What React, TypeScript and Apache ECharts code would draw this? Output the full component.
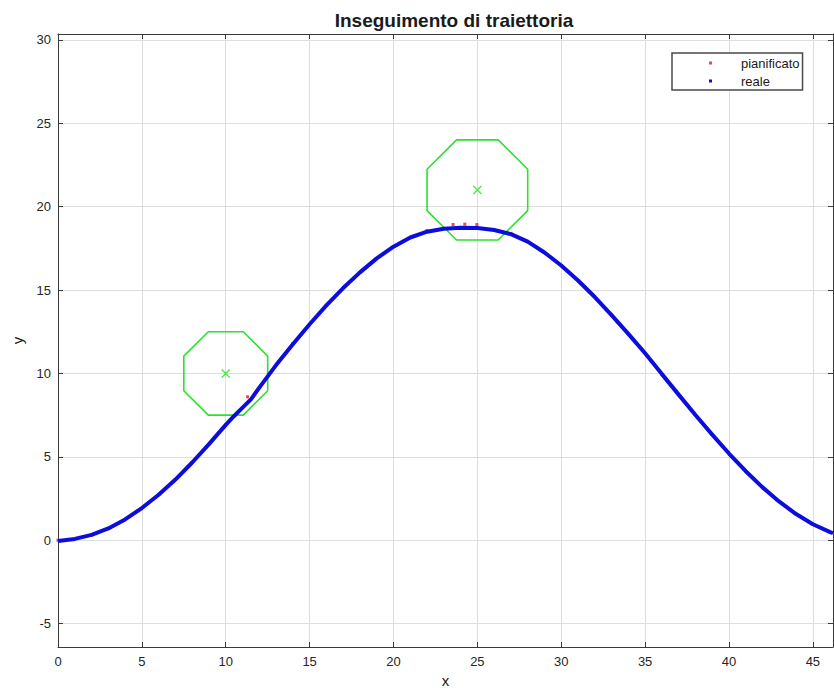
import React, { useEffect, useRef } from "react";
import * as echarts from "echarts";

const TITLE = "Inseguimento di traiettoria";
const X_RANGE = [0, 46.2];
const Y_RANGE = [-6.4, 30.35];

// planned trajectory (red dots), mostly hidden below the real one
const plannedPath: [number, number][] = [
  [0, 0], [2, 0.32], [4, 1.25], [6, 2.73], [8, 4.66], [10, 6.92], [11.3, 8.6],
  [14, 11.79], [16, 14.08], [18, 16.06], [20, 17.6], [22, 18.57],
  [23.55, 18.93], [24.25, 18.95], [24.97, 18.93], [27, 18.4], [30, 16.47],
  [33, 13.5], [36, 9.96], [39, 6.33], [42, 3.17], [45, 0.96],
];

// real trajectory (blue)
const realPath: [number, number][] = [
  [0, -0.05], [1, 0.08], [2, 0.32], [3, 0.71], [4, 1.25], [5, 1.93], [6, 2.73],
  [7, 3.64], [8, 4.66], [9, 5.76], [10, 6.92], [10.5, 7.45], [11, 7.95],
  [11.5, 8.45], [12, 9.15], [13, 10.5], [14, 11.75], [15, 12.95], [16, 14.08],
  [17, 15.12], [18, 16.06], [19, 16.9], [20, 17.6], [21, 18.15], [22, 18.5],
  [23, 18.68], [24, 18.74], [25, 18.72], [26, 18.6], [27, 18.35], [28, 17.9],
  [29, 17.25], [30, 16.47], [31, 15.57], [32, 14.58], [33, 13.5], [34, 12.37],
  [35, 11.21], [36, 9.96], [37, 8.73], [38, 7.51], [39, 6.33], [40, 5.2],
  [41, 4.14], [42, 3.17], [43, 2.31], [44, 1.57], [45, 0.96], [46, 0.5],
  [46.2, 0.42],
];

// obstacles: centres and octagonal boundaries
const obstacleCenters: [number, number][] = [[10, 10], [25, 21]];
const obstacle1: [number, number][] = [
  [12.5, 8.96], [12.5, 11.04], [11.04, 12.5], [8.96, 12.5], [7.5, 11.04],
  [7.5, 8.96], [8.96, 7.5], [11.04, 7.5], [12.5, 8.96],
];
const obstacle2: [number, number][] = [
  [28, 19.76], [28, 22.24], [26.24, 24], [23.76, 24], [22, 22.24],
  [22, 19.76], [23.76, 18], [26.24, 18], [28, 19.76],
];

const FONT = "Liberation Sans";
const GREEN = "#2fe02f";
const BLUE = "#0c0cdc";
const RED = "#e02020";

export default function App() {
  const ref = useRef<HTMLDivElement>(null);
  useEffect(() => {
    if (!ref.current) return;
    const chart = echarts.init(ref.current, null, { renderer: "svg" });
    const axisCommon = {
      axisLine: { show: true, onZero: false, lineStyle: { color: "#3a3a3a", width: 1 } },
      axisTick: { show: true, inside: true, length: 5, lineStyle: { color: "#3a3a3a" } },
    };
    chart.setOption({
      animation: false,
      backgroundColor: "#ffffff",
      title: {
        text: TITLE,
        left: 449,
        top: 6,
        textAlign: "center",
        textStyle: { fontFamily: FONT, fontSize: 19, fontWeight: "bold", color: "#1a1a1a" },
      },
      grid: { left: 58, right: 1, top: 34, bottom: 43 },
      legend: {
        data: [
          { name: "pianificato", icon: "rect" },
          { name: "reale", icon: "rect" },
        ],
        orient: "vertical",
        left: 672,
        top: 53,
        itemWidth: 3,
        itemHeight: 3,
        itemGap: 4,
        padding: [3, 3, 2, 37],
        borderColor: "#4a4a4a",
        borderWidth: 1.5,
        backgroundColor: "#ffffff",
        textStyle: {
          fontFamily: FONT, fontSize: 13, color: "#1a1a1a", lineHeight: 14,
          padding: [0, 0, 0, 24],
        },
      },
      xAxis: [
        {
          type: "value",
          min: X_RANGE[0],
          max: X_RANGE[1],
          interval: 5,
          name: "x",
          nameLocation: "middle",
          nameGap: 26,
          nameTextStyle: { fontFamily: FONT, fontSize: 15, color: "#1a1a1a" },
          ...axisCommon,
          axisLabel: { fontFamily: FONT, fontSize: 13, color: "#262626", margin: 8, showMaxLabel: false },
          splitLine: { show: true, lineStyle: { color: "#dedede", width: 1 } },
        },
        {
          type: "value",
          position: "top",
          min: X_RANGE[0],
          max: X_RANGE[1],
          interval: 5,
          ...axisCommon,
          axisLabel: { show: false },
          splitLine: { show: false },
        },
      ],
      yAxis: [
        {
          type: "value",
          min: Y_RANGE[0],
          max: Y_RANGE[1],
          splitNumber: 7,
          minInterval: 5,
          maxInterval: 5,
          name: "y",
          nameLocation: "middle",
          nameGap: 33,
          nameTextStyle: { fontFamily: FONT, fontSize: 15, color: "#1a1a1a" },
          ...axisCommon,
          axisLabel: {
            fontFamily: FONT, fontSize: 13, color: "#262626", margin: 7,
            showMinLabel: false, showMaxLabel: false,
          },
          splitLine: { show: true, lineStyle: { color: "#dedede", width: 1 } },
        },
        {
          type: "value",
          position: "right",
          min: Y_RANGE[0],
          max: Y_RANGE[1],
          splitNumber: 7,
          minInterval: 5,
          maxInterval: 5,
          ...axisCommon,
          axisLabel: { show: false },
          splitLine: { show: false },
        },
      ],
      series: [
        {
          name: "ostacolo 1",
          type: "line",
          data: obstacle1,
          showSymbol: false,
          lineStyle: { color: GREEN, width: 1.6 },
          z: 3,
        },
        {
          name: "ostacolo 2",
          type: "line",
          data: obstacle2,
          showSymbol: false,
          lineStyle: { color: GREEN, width: 1.6 },
          z: 3,
        },
        {
          name: "centri",
          type: "scatter",
          data: obstacleCenters,
          symbol: "path://M0,0L10,10M10,0L0,10",
          symbolSize: 8,
          itemStyle: { color: "none", borderColor: GREEN, borderWidth: 1.6 },
          z: 3,
        },
        {
          name: "pianificato",
          type: "scatter",
          data: plannedPath,
          symbol: "rect",
          symbolSize: 3,
          itemStyle: { color: RED },
          z: 4,
        },
        {
          name: "reale",
          type: "line",
          data: realPath,
          showSymbol: false,
          symbol: "rect",
          itemStyle: { color: BLUE },
          lineStyle: { color: BLUE, width: 4 },
          z: 5,
        },
      ],
    });
    return () => chart.dispose();
  }, []);
  return (
    <div
      ref={ref}
      style={{ position: "fixed", left: 0, top: 0, width: 834, height: 693 }}
    />
  );
}
